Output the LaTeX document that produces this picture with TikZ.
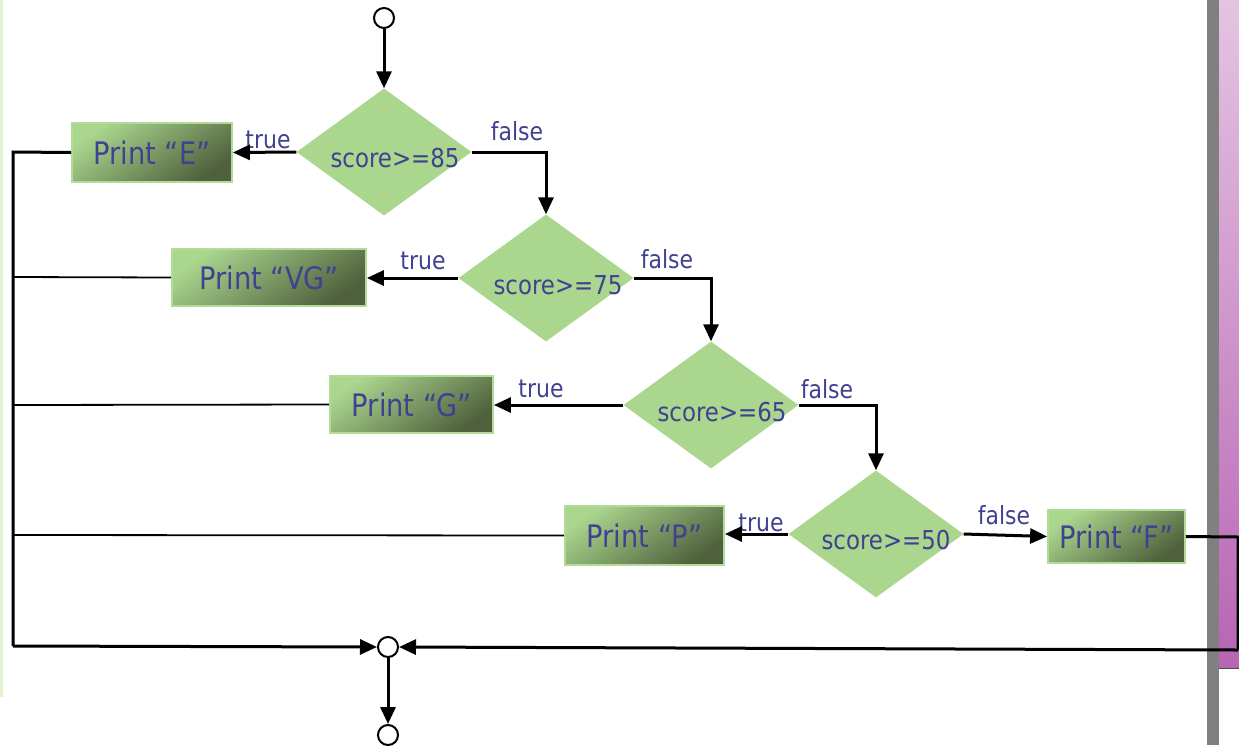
\documentclass[tikz,border=0pt]{standalone}
\usepackage{fontspec}
\setmainfont{DejaVu Sans}[FakeStretch=0.88]
\usetikzlibrary{shapes.geometric,arrows.meta}
\definecolor{txt}{RGB}{65,65,145}
\definecolor{dfill}{RGB}{170,214,142}
\definecolor{btop}{RGB}{170,214,142}
\definecolor{bbot}{RGB}{78,96,60}
\definecolor{bborder}{RGB}{178,218,152}
\definecolor{ptop}{RGB}{228,196,226}
\definecolor{pbot}{RGB}{184,100,180}
\definecolor{lstrip}{RGB}{224,242,208}
\tikzset{
  decision/.style={diamond, minimum width=175pt, minimum height=127pt, inner sep=0pt, fill=dfill, draw=none},
  dtext/.style={text=txt, font=\fontsize{26}{30}\selectfont, inner sep=0pt},
  printbox/.style={rectangle, draw=bborder, line width=1.8pt, top color=btop, bottom color=bbot, shading angle=35,
    text=txt, font=\fontsize{31}{36}\selectfont, inner sep=0pt},
  lbl/.style={text=txt, font=\fontsize{25}{29}\selectfont, inner sep=0pt},
  term/.style={circle, draw=black, line width=2pt, fill=white, minimum size=20pt, inner sep=0pt},
  flow/.style={line width=3pt, -{Triangle[length=17pt,width=15pt]}},
  link/.style={line width=3pt},
  thinlink/.style={line width=1.8pt},
}
\begin{document}
\begin{tikzpicture}[x=1pt,y=-1pt]
\useasboundingbox (0,0) rectangle (1239,745);
% side decorations
\fill[lstrip] (0,0) rectangle (3,697);
\fill[gray] (1207,0) rectangle (1219,745);
\shade[top color=ptop, bottom color=pbot] (1219,0) rectangle (1239,668);
\draw[line width=1pt, black!70] (1219,668) -- (1239,668);

% terminals
\node[term] (start) at (384,18) {};
\node[term] (merge) at (388,647) {};
\node[term] (stop) at (388,735) {};

% decisions
\node[decision] (d1) at (384,152) {};
\node[decision] (d2) at (546,278) {};
\node[decision] (d3) at (711,405) {};
\node[decision] (d4) at (876,534) {};
\node[dtext] (t1) at (395,158) {score>=85};
\node[dtext] (t2) at (558,285) {score>=75};
\node[dtext] (t3) at (722,412) {score>=65};
\node[dtext] (t4) at (886,540) {score>=50};

% print boxes
\node[printbox, minimum width=160pt, minimum height=59pt] (pE) at (152,152.5) {Print “E”};
\node[printbox, minimum width=194pt, minimum height=57pt] (pVG) at (269,277.5) {Print “VG”};
\node[printbox, minimum width=163pt, minimum height=57pt] (pG) at (411.5,404.5) {Print “G”};
\node[printbox, minimum width=159pt, minimum height=59pt] (pP) at (644.5,535.5) {Print “P”};
\node[printbox, minimum width=137pt, minimum height=53pt] (pF) at (1116.5,536.5) {Print “F”};

% labels
\node[lbl] (tr1) at (268,140) {true};
\node[lbl] (fa1) at (517,131) {false};
\node[lbl] (tr2) at (423,261) {true};
\node[lbl] (fa2) at (667,259) {false};
\node[lbl] (tr3) at (541,389) {true};
\node[lbl] (fa3) at (827,389) {false};
\node[lbl] (tr4) at (761,523) {true};
\node[lbl] (fa4) at (1004,515) {false};

% coordinates
\coordinate (L1) at (13,152);
\coordinate (L2) at (13,277);
\coordinate (L3) at (13,405);
\coordinate (L4) at (13,535);
\coordinate (L5) at (13,646);
\coordinate (R1) at (1238,537);
\coordinate (R2) at (1238,650);

% connectors
\draw[flow] (start) -- (d1.north);
\draw[flow] (d1.west) -- (pE.east);
\draw[flow] (d1.east) -| (d2.north);
\draw[flow] (d2.west) -- (d2.west -| pVG.east);
\draw[flow] (d2.east) -| (d3.north);
\draw[flow] (d3.west) -- (d3.west -| pG.east);
\draw[flow] (d3.east) -| (d4.north);
\draw[flow] (d4.west) -- (d4.west -| pP.east);
\draw[flow] (d4.east) -- (pF.west);

\draw[link] (pE.west) -- (L1) -- (L5);
\draw[flow] (L5) -- (merge.west);
\draw[thinlink] (pVG.west) -- (L2);
\draw[thinlink] (pG.west) -- (L3);
\draw[thinlink] (pP.west) -- (L4);
\draw[link] (pF.east) -- (R1) -- (R2);
\draw[flow] (R2) -- (merge.east);
\draw[flow] (merge) -- (stop);
\end{tikzpicture}
\end{document}
